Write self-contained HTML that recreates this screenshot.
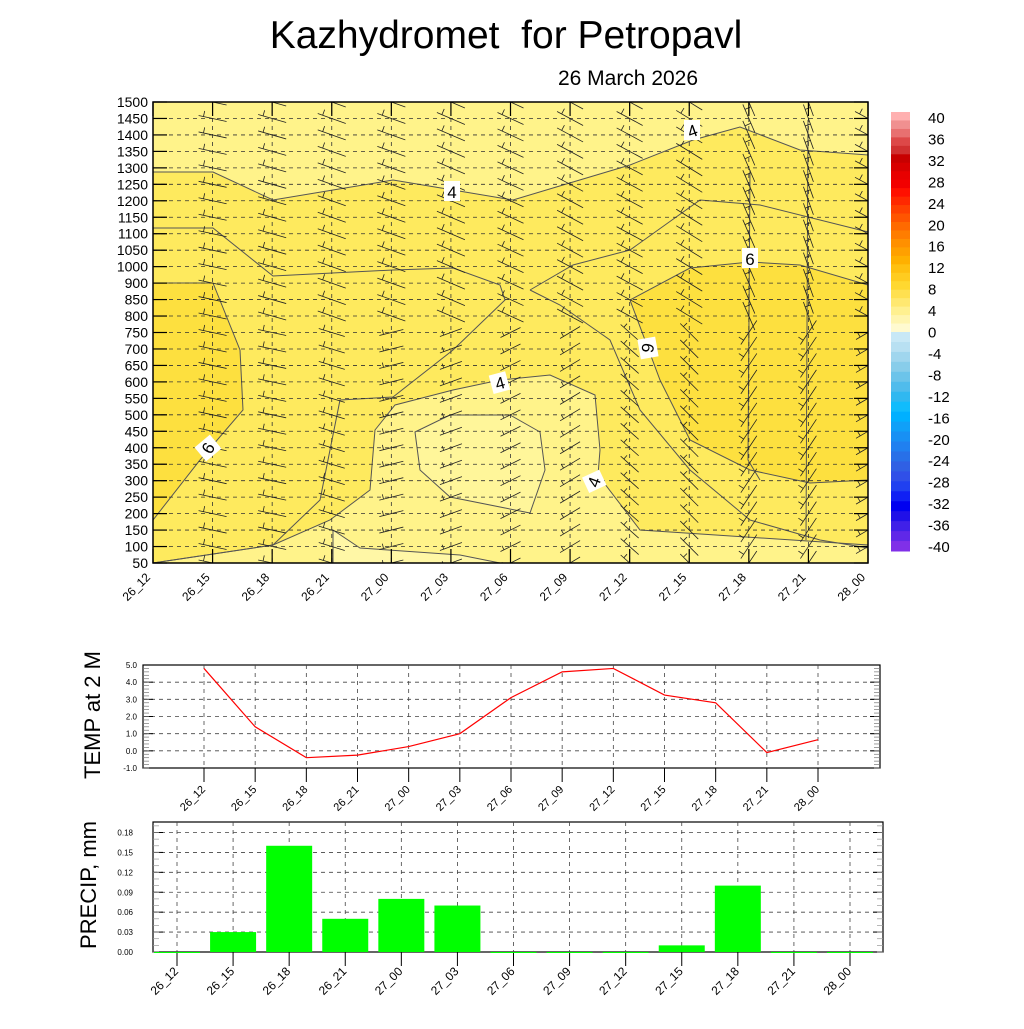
<!DOCTYPE html>
<html><head><meta charset="utf-8"><style>
body{margin:0;background:#fff}
svg text{font-family:"Liberation Sans",sans-serif}
</style></head><body>
<svg id="root" width="1024" height="1024" viewBox="0 0 1024 1024" xmlns="http://www.w3.org/2000/svg">
<defs><clipPath id="pclip"><rect x="153" y="102" width="715" height="461"/></clipPath></defs>
<text x="506" y="48" font-size="39" text-anchor="middle">Kazhydromet&#160; for Petropavl</text>
<text x="628" y="85" font-size="21" text-anchor="middle">26 March 2026</text>

<g id="main">
 <rect x="153" y="102" width="715" height="461" fill="#feea5e"/>
 <g fill="none" stroke="#555" stroke-width="1" id="contours">
  <polygon fill="#fff38a" points="153,102 868,102 868,155 800,150 740,127 693,140 630,165 573,182 513,200 453,190 393,180 333,190 273,200 213,172 153,172"/>
  <polygon fill="#fde03f" points="153,283 213,283 240,350 243,410 200,460 153,520"/>
  <polygon fill="#fde03f" points="630,300 690,268 750,262 800,265 868,285 868,480 810,483 750,470 690,440 660,380"/>
  <polygon fill="#fff38a" points="375,430 395,405 453,390 500,380 550,375 595,395 600,450 598,475 640,530 868,545 868,563 153,563 273,545 330,520 370,490"/>
  <polygon fill="#fff69a" points="415,432 450,415 510,415 540,432 545,470 530,513 450,497 420,470"/>
  <polygon fill="#fff7a6" points="333,530 360,548 460,555 500,563 333,563"/>
  <polyline points="153,228 213,228 273,276 393,270 453,268 500,285 505,300 453,350 393,397 340,400 320,500 273,545 153,563"/>
  <polyline points="530,290 573,265 630,250 700,200 760,205 868,232"/>
  <polyline points="530,290 560,305 610,340 640,410 690,470 750,520 820,540 868,548"/>
  <polyline points="750,170 748,460 760,480"/>
  <polyline points="808,120 806,540"/>
 </g>
 <g id="gridH"></g><g id="barbs" clip-path="url(#pclip)"></g>
 <rect x="153" y="102" width="715" height="461" fill="none" stroke="#000" stroke-width="1.5"/>
 <g id="mainTicks"></g>
 <g font-size="17" text-anchor="middle">
  <rect x="684" y="120" width="16" height="20" fill="#fff"/><text x="692" y="137" transform="rotate(-20 692 130)">4</text>
  <rect x="444" y="181" width="16" height="20" fill="#fff"/><text x="452" y="198">4</text>
  <rect x="742" y="248" width="16" height="20" fill="#fff"/><text x="750" y="265">6</text>
  <rect x="638" y="339" width="20" height="18" fill="#fff" transform="rotate(80 648 348)"/><text x="648" y="354" transform="rotate(100 648 348)">6</text>
  <rect x="491" y="373" width="17" height="19" fill="#fff" transform="rotate(-15 500 383)"/><text x="500" y="389" transform="rotate(-15 500 383)">4</text>
  <rect x="198" y="439" width="20" height="18" fill="#fff" transform="rotate(-40 208 448)"/><text x="208" y="454" transform="rotate(-60 208 448)">6</text>
  <rect x="585" y="473" width="19" height="17" fill="#fff" transform="rotate(-25 594 482)"/><text x="594" y="488" transform="rotate(-70 594 482)">4</text>
 </g>
</g>
<g id="cbar"></g>
<g id="temp"></g>
<g id="precip"></g>
<text x="0" y="0" font-size="22" text-anchor="middle" transform="translate(100 715) rotate(-90)">TEMP at 2 M</text>
<text x="0" y="0" font-size="22" text-anchor="middle" transform="translate(96 885) rotate(-90)">PRECIP, mm</text>
</svg>
<script>
const times=["26_12","26_15","26_18","26_21","27_00","27_03","27_06","27_09","27_12","27_15","27_18","27_21","28_00"];
const levels=["1500","1450","1400","1350","1300","1250","1200","1150","1100","1050","1000","900","850","800","750","700","650","600","550","500","450","400","350","300","250","200","150","100","50"];
const tempValues=[4.8,1.4,-0.4,-0.25,0.25,1.0,3.1,4.6,4.8,3.25,2.8,-0.1,0.65];
const tempTicks=["5.0","4.0","3.0","2.0","1.0","0.0","-1.0"];
const precipValues=[0,0.03,0.16,0.05,0.08,0.07,0,0,0,0.01,0.10,0,0];
const precipTicks=["0.18","0.15","0.12","0.09","0.06","0.03","0.00"];
const cbarLabels=["40","36","32","28","24","20","16","12","8","4","0","-4","-8","-12","-16","-20","-24","-28","-32","-36","-40"];
const cbarColors=["#ffb0b0","#f09090","#e87070","#dd4848","#d03030","#c80000","#d80000","#e80000","#f20000","#ff1000","#ff2800","#ff4000","#ff5500","#ff6a00","#ff7d00","#ff9000","#ffa000","#ffb000","#ffc010","#ffcc20","#ffd830","#ffe050","#ffe870","#fff090","#fff5b0","#fffad0",
"#c8e8f6","#b8e0f2","#a0d6ee","#88cdea","#6cc4ea","#50bcec","#30b8f0","#10bcfc","#00b0ff","#10a0f8","#1890f4","#2080f0","#2870e8","#3060e4","#3050e8","#2040f0","#1020f4","#0000f0","#2010e8","#4020e8","#6028e8","#8030e8"];
const NS="http://www.w3.org/2000/svg";
function mk(p,tag,a){const e=document.createElementNS(NS,tag);for(const k in a)e.setAttribute(k,a[k]);p.appendChild(e);return e;}
const G=id=>document.getElementById(id);
const mx=i=>153+i*(715/(times.length-1));
const my=j=>102+j*(461/(levels.length-1));
const gh=G('gridH'),mt=G('mainTicks'),bb=G('barbs');
levels.forEach((l,j)=>{
 const y=my(j);
 const g=mk(gh,'line',{x1:153,x2:868,y1:y,y2:y,stroke:'#333','stroke-width':0.8,'stroke-dasharray':'4,4'});
 
 
 const t=mk(mt,'text',{x:148,y:y+5,'font-size':14,'text-anchor':'end'});t.textContent=l;
 
 
 mk(mt,'line',{x1:153,x2:167,y1:y,y2:y,stroke:'#000','stroke-width':1.2});
 mk(mt,'line',{x1:854,x2:868,y1:y,y2:y,stroke:'#000','stroke-width':1.2});
});
const barbDxTop=[14,14,14,14,14,14,13,13,13,13,6,5,13];
const barbDyTop=[0,3,4,5,5,6,6,7,7,8,14,14,7];
const barbDxBot=[14,14,14,13,12,11,10,10,9,9,8,8,12];
const barbDyBot=[0,3,3,4,-3,-4,-5,-6,8,9,-12,-12,-7];
times.forEach((tm,i)=>{
 const x=mx(i);
 if(i>0&&i<times.length-1){const g=mk(gh,'line',{x1:x,x2:x,y1:102,y2:563,stroke:'#333','stroke-width':0.8,'stroke-dasharray':'4,4'});
 
 }
 mk(mt,'line',{x1:x,x2:x,y1:102,y2:116,stroke:'#000','stroke-width':1.2});
 mk(mt,'line',{x1:x,x2:x,y1:549,y2:563,stroke:'#000','stroke-width':1.2});
 const t=mk(mt,'text',{x:x-2,y:578,'font-size':12,'text-anchor':'end',transform:`rotate(-45 ${x-2} 578)`});t.textContent=tm;
 
 
 levels.forEach((l,j)=>{
  const cx=x,cy=my(j);
  const low=j>=14;
  const dx=low?barbDxBot[i]:barbDxTop[i], dy=low?barbDyBot[i]:barbDyTop[i];
  mk(bb,'line',{x1:cx-dx,y1:cy-dy,x2:cx+dx,y2:cy+dy,stroke:'#222','stroke-width':0.8});
  const bx=cx-dx*0.65, by=cy-dy*0.65;
  mk(bb,'line',{x1:bx,y1:by,x2:bx+dy*0.4,y2:by-dx*0.4,stroke:'#222','stroke-width':0.8});
 });
});
const cb=G('cbar');
const nTop=26,nBot=cbarColors.length-26;
cbarColors.forEach((c,k)=>{
 let y,h;
 if(k<nTop){h=220/nTop;y=112+k*h;}else{h=219/nBot;y=332+(k-nTop)*h;}
 const r=mk(cb,'rect',{x:891,y:y,width:19,height:h+0.5,fill:c});
 
 
});
cbarLabels.forEach((l,k)=>{
 const t=mk(cb,'text',{x:928,y:117+k*21.45+6,'font-size':15});t.textContent=l;
 
 
});
const tp=G('temp');
const tx=i=>204+i*(614/12);
const ty=v=>665+(5-v)*(103/6);
mk(tp,'rect',{x:143,y:665,width:737,height:103,fill:'none',stroke:'#000','stroke-width':1.2});
tempTicks.forEach(s=>{const v=parseFloat(s),y=ty(v);
 if(v<5&&v>-1)mk(tp,'line',{x1:143,x2:880,y1:y,y2:y,stroke:'#444','stroke-width':0.8,'stroke-dasharray':'4,4'});
 mk(tp,'line',{x1:143,x2:153,y1:y,y2:y,stroke:'#000'});mk(tp,'line',{x1:870,x2:880,y1:y,y2:y,stroke:'#000'});
 const t=mk(tp,'text',{x:137,y:y+3,'font-size':8,'text-anchor':'end'});t.textContent=s;
 
 
});
for(let v=-1;v<=5;v+=0.2){const y=ty(v);mk(tp,'line',{x1:143,x2:149,y1:y,y2:y,stroke:'#777','stroke-width':0.7});mk(tp,'line',{x1:874,x2:880,y1:y,y2:y,stroke:'#777','stroke-width':0.7});}
times.forEach((tm,i)=>{const x=tx(i);
 mk(tp,'line',{x1:x,x2:x,y1:665,y2:768,stroke:'#444','stroke-width':0.8,'stroke-dasharray':'4,4'});
 mk(tp,'line',{x1:x,x2:x,y1:768,y2:782,stroke:'#000'});
 const t=mk(tp,'text',{x:x+2,y:790,'font-size':11,'text-anchor':'end',transform:`rotate(-45 ${x+2} 790)`});t.textContent=tm;
 
 
});
const tl=mk(tp,'polyline',{points:tempValues.map((v,i)=>tx(i)+','+ty(v)).join(' '),fill:'none',stroke:'#f00','stroke-width':1.2});


const pp=G('precip');
const px=i=>177+i*(673/12);
const py=v=>952-v*(119.5/0.18);
mk(pp,'rect',{x:153,y:822,width:730,height:130,fill:'none',stroke:'#000','stroke-width':1.2});
precipTicks.forEach(s=>{const v=parseFloat(s),y=py(v);
 if(v>0)mk(pp,'line',{x1:153,x2:883,y1:y,y2:y,stroke:'#444','stroke-width':0.8,'stroke-dasharray':'4,4'});
 mk(pp,'line',{x1:153,x2:163,y1:y,y2:y,stroke:'#000'});mk(pp,'line',{x1:873,x2:883,y1:y,y2:y,stroke:'#000'});
 const t=mk(pp,'text',{x:133,y:y+3,'font-size':8,'text-anchor':'end'});t.textContent=s;
 
 
});
for(let v=0.0;v<0.195;v+=0.01){const y=py(v);mk(pp,'line',{x1:153,x2:159,y1:y,y2:y,stroke:'#999','stroke-width':0.7});mk(pp,'line',{x1:877,x2:883,y1:y,y2:y,stroke:'#999','stroke-width':0.7});}
times.forEach((tm,i)=>{const x=px(i);
 mk(pp,'line',{x1:x,x2:x,y1:822,y2:952,stroke:'#444','stroke-width':0.8,'stroke-dasharray':'4,4'});
 mk(pp,'line',{x1:x,x2:x,y1:952,y2:966,stroke:'#000'});
 const b=mk(pp,'rect',{x:x-23,y:py(precipValues[i]),width:46,height:Math.max(952-py(precipValues[i]),1),fill:'#00ff00'});
 
 
 const t=mk(pp,'text',{x:x+2,y:972,'font-size':12,'text-anchor':'end',transform:`rotate(-45 ${x+2} 972)`});t.textContent=tm;
 
 
});
</script>
</body></html>
